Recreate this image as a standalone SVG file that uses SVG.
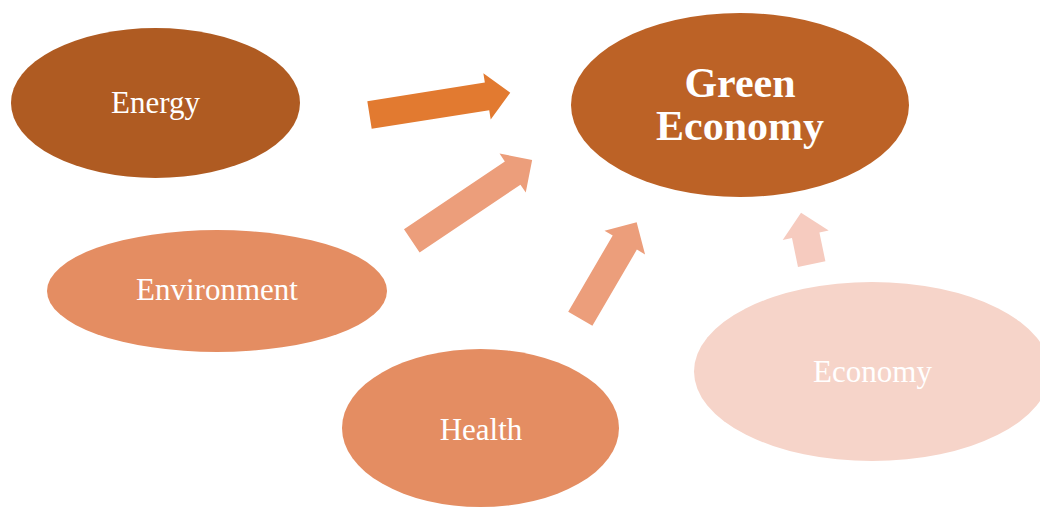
<svg xmlns="http://www.w3.org/2000/svg" width="1040" height="507" viewBox="0 0 1040 507">
  <style>
    .lbl { font-family: "Liberation Serif", "Times New Roman", serif; fill: #FFFFFF; text-anchor: middle; font-size: 31px; }
    .big { font-size: 42px; font-weight: bold; }
    .arrow-strong { fill: #E27A30; }
    .arrow-mid { fill: #EC9E7B; }
    .arrow-light { fill: #F6CBBF; }
  </style>
  <rect width="1040" height="507" fill="#FFFFFF"/>

  <g id="connectors">
    <polygon class="arrow-strong" transform="translate(369.5,115) rotate(-9)" points="0,-14 119,-14 119,-23.5 142.5,0 119,23.5 119,14 0,14"/>
    <polygon class="arrow-mid" transform="translate(411.8,240.8) rotate(-33.9)" points="0,-14 121.5,-14 121.5,-23.5 145,0 121.5,23.5 121.5,14 0,14"/>
    <polygon class="arrow-mid" transform="translate(580.3,318.7) rotate(-59.7)" points="0,-14 88.2,-14 88.2,-23.5 111.7,0 88.2,23.5 88.2,14 0,14"/>
    <polygon class="arrow-light" transform="translate(811.7,264.2) rotate(-101.7)" points="0,-14 29.6,-14 29.6,-23.5 52.6,0 29.6,23.5 29.6,14 0,14"/>
  </g>

  <g id="node-energy">
    <ellipse cx="155.5" cy="103" rx="144.5" ry="75" fill="#AF5B22"/>
    <text class="lbl" x="155.5" y="113">Energy</text>
  </g>

  <g id="node-green-economy">
    <ellipse cx="740" cy="105" rx="169" ry="92" fill="#BC6226"/>
    <text class="lbl big" x="740" y="97">Green</text>
    <text class="lbl big" x="740" y="140">Economy</text>
  </g>

  <g id="node-environment">
    <ellipse cx="217" cy="291" rx="170" ry="61" fill="#E48D62"/>
    <text class="lbl" x="217" y="300">Environment</text>
  </g>

  <g id="node-health">
    <ellipse cx="480.5" cy="428" rx="138.5" ry="79" fill="#E48D62"/>
    <text class="lbl" x="481" y="440">Health</text>
  </g>

  <g id="node-economy">
    <ellipse cx="872" cy="371.5" rx="178" ry="89.5" fill="#F6D4C9"/>
    <text class="lbl" x="872.5" y="382">Economy</text>
  </g>
</svg>
